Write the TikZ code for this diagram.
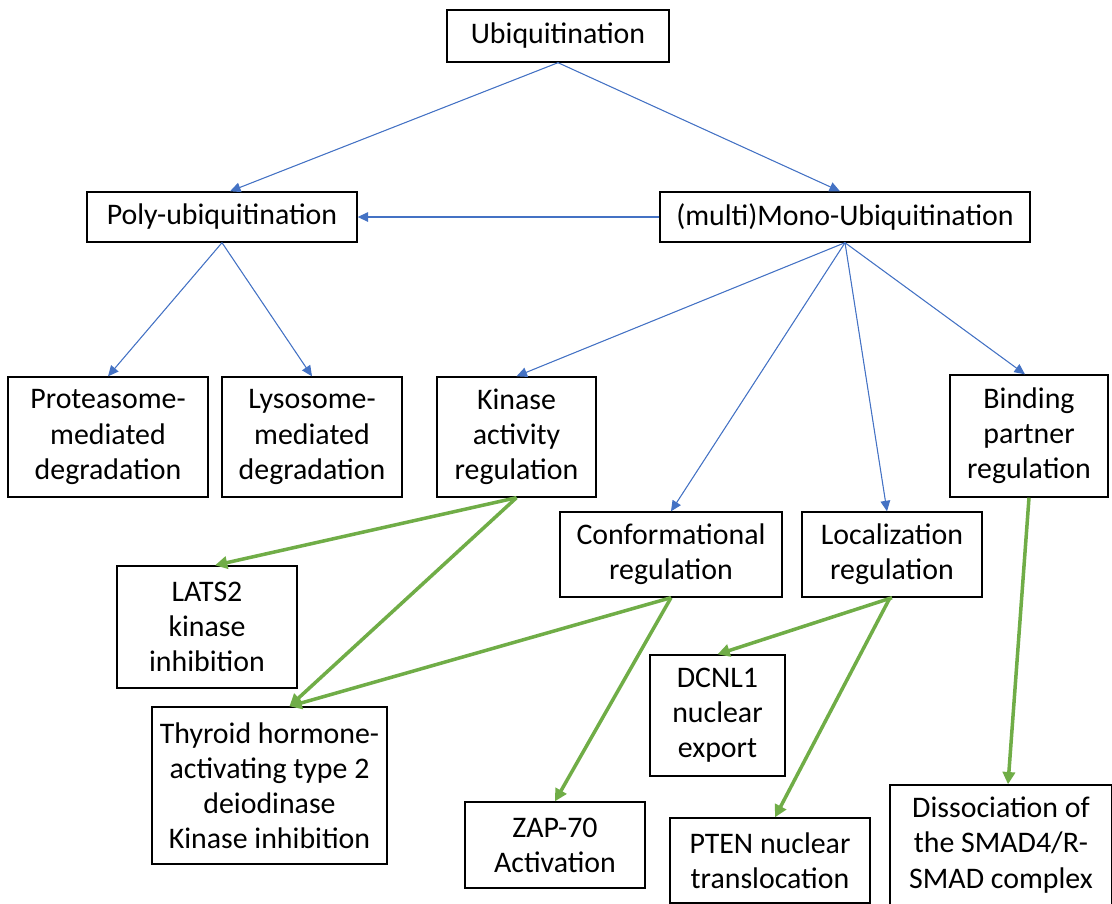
\documentclass[tikz,border=0pt]{standalone}
\usepackage{fontspec}
\setmainfont{Carlito}
\usetikzlibrary{arrows.meta}
\definecolor{bl}{HTML}{4472C4}
\definecolor{gr}{HTML}{70AD47}
\begin{document}
\begin{tikzpicture}[x=0.02cm,y=-0.02cm,
  box/.style={draw, line width=0.8pt, align=center, inner sep=0pt, font=\fontsize{17}{20}\selectfont},
  barrow/.style={draw=bl, line width=0.6pt, -{Triangle[length=6pt,width=5.5pt]}, fill=bl},
  garrow/.style={draw=gr, line width=2pt, -{Triangle[length=7pt,width=7pt]}, fill=gr}]
\useasboundingbox (0,0) rectangle (1112,903);
\node[box, minimum width=4.44cm, minimum height=1.04cm] (ubi) at (558,36) {Ubiquitination};
\node[box, minimum width=5.40cm, minimum height=1.00cm] (poly) at (222,217) {Poly-ubiquitination};
\node[box, minimum width=7.40cm, minimum height=1.00cm] (mono) at (845,217) {(multi)Mono-Ubiquitination};
\node[box, minimum width=4.00cm, minimum height=2.40cm] (prot) at (108,437) {Proteasome-\\mediated\\degradation};
\node[box, minimum width=3.60cm, minimum height=2.40cm] (lyso) at (312,437) {Lysosome-\\mediated\\degradation};
\node[box, minimum width=3.18cm, minimum height=2.40cm] (kin) at (516.5,437) {Kinase\\activity\\regulation};
\node[box, minimum width=3.16cm, minimum height=2.44cm] (bind) at (1029,436) {Binding\\partner\\regulation};
\node[box, minimum width=4.44cm, minimum height=1.70cm] (conf) at (671,554.5) {Conformational\\regulation};
\node[box, minimum width=3.60cm, minimum height=1.70cm] (loc) at (892,554.5) {Localization\\regulation};
\node[box, minimum width=3.60cm, minimum height=2.44cm] (lats) at (207,627) {LATS2\\kinase\\inhibition};
\node[box, minimum width=4.70cm, minimum height=3.14cm] (thy) at (269.5,785.5) {Thyroid hormone-\\activating type 2\\deiodinase\\Kinase inhibition};
\node[box, minimum width=2.70cm, minimum height=2.42cm] (dcnl) at (717.5,715.5) {DCNL1\\nuclear\\export};
\node[box, minimum width=3.60cm, minimum height=1.72cm] (zap) at (555,845) {ZAP-70\\Activation};
\node[box, minimum width=4.00cm, minimum height=1.70cm] (pten) at (770,860.5) {PTEN nuclear\\translocation};
\node[box, minimum width=4.44cm, minimum height=2.40cm] (diss) at (1001,845) {Dissociation of\\the SMAD4/R-\\SMAD complex};
% blue
\draw[barrow] (ubi.south) -- ([xshift=0.16cm]poly.north);
\draw[barrow] (ubi.south) -- ([xshift=-0.1cm]mono.north);
\draw[barrow] (mono.west) -- (poly.east);
\draw[barrow] (poly.south) -- (prot.north);
\draw[barrow] (poly.south) -- (lyso.north);
\draw[barrow] (mono.south) -- (kin.north);
\draw[barrow] (mono.south) -- (conf.north);
\draw[barrow] (mono.south) -- ([xshift=-0.1cm]loc.north);
\draw[barrow] (mono.south) -- ([xshift=-0.08cm]bind.north);
% green
\draw[garrow] (kin.south) -- ([xshift=0.16cm]lats.north);
\draw[garrow] (kin.south) -- ([xshift=0.4cm]thy.north);
\draw[garrow] (conf.south) -- ([xshift=0.4cm]thy.north);
\draw[garrow] (conf.south) -- (zap.north);
\draw[garrow] (loc.south) -- (dcnl.north);
\draw[garrow] ([xshift=-0.04cm]loc.south) -- ([xshift=0.1cm]pten.north);
\draw[garrow] (bind.south) -- ([xshift=0.14cm]diss.north);
\end{tikzpicture}
\end{document}
